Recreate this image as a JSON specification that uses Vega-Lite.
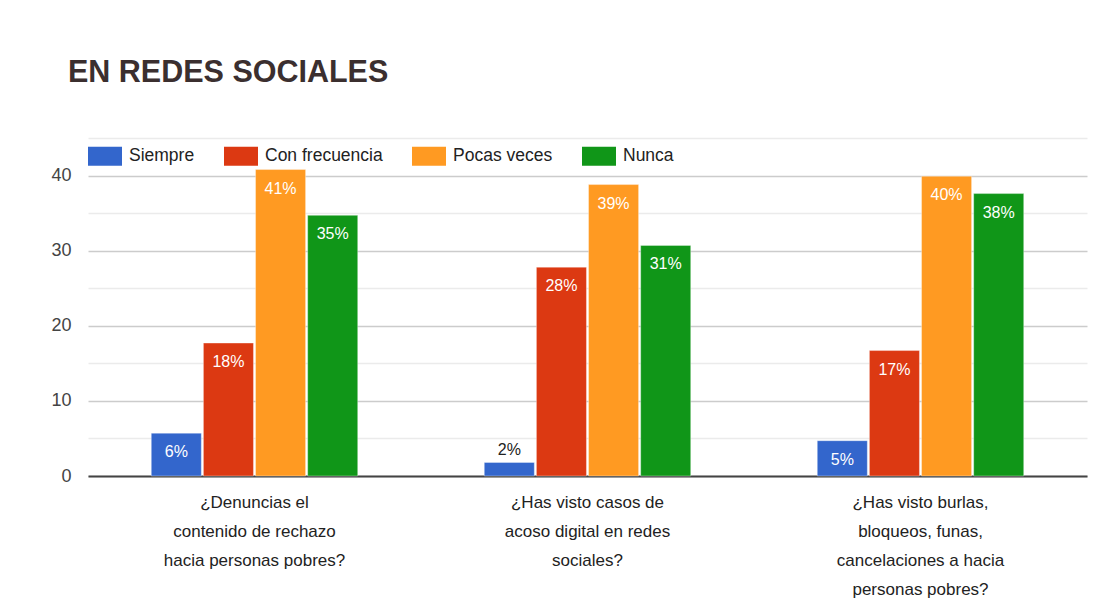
{
  "$schema": "https://vega.github.io/schema/vega-lite/v6.json",
  "autosize": "none",
  "width": 999,
  "height": 338,
  "padding": {"left": 88, "top": 138, "right": 22, "bottom": 137},
  "background": "white",
  "title": {
    "text": "EN REDES SOCIALES",
    "anchor": "start",
    "frame": "group",
    "dx": -20,
    "offset": 50,
    "fontSize": 30.5,
    "fontWeight": "bold",
    "font": "Liberation Sans",
    "color": "#3b2f2f",
    "limit": 0
  },
  "config": {
    "view": {"stroke": null},
    "font": "Liberation Sans",
    "text": {"font": "Liberation Sans"}
  },
  "data": {
    "values": [
      {"q": "¿Denuncias el|contenido de rechazo|hacia personas pobres?", "serie": "Siempre", "value": 5.7, "label": "6%"},
      {"q": "¿Denuncias el|contenido de rechazo|hacia personas pobres?", "serie": "Con frecuencia", "value": 17.7, "label": "18%"},
      {"q": "¿Denuncias el|contenido de rechazo|hacia personas pobres?", "serie": "Pocas veces", "value": 40.8, "label": "41%"},
      {"q": "¿Denuncias el|contenido de rechazo|hacia personas pobres?", "serie": "Nunca", "value": 34.7, "label": "35%"},
      {"q": "¿Has visto casos de|acoso digital en redes|sociales?", "serie": "Siempre", "value": 1.8, "label": "2%"},
      {"q": "¿Has visto casos de|acoso digital en redes|sociales?", "serie": "Con frecuencia", "value": 27.8, "label": "28%"},
      {"q": "¿Has visto casos de|acoso digital en redes|sociales?", "serie": "Pocas veces", "value": 38.8, "label": "39%"},
      {"q": "¿Has visto casos de|acoso digital en redes|sociales?", "serie": "Nunca", "value": 30.7, "label": "31%"},
      {"q": "¿Has visto burlas,|bloqueos, funas,|cancelaciones a hacia|personas pobres?", "serie": "Siempre", "value": 4.7, "label": "5%"},
      {"q": "¿Has visto burlas,|bloqueos, funas,|cancelaciones a hacia|personas pobres?", "serie": "Con frecuencia", "value": 16.7, "label": "17%"},
      {"q": "¿Has visto burlas,|bloqueos, funas,|cancelaciones a hacia|personas pobres?", "serie": "Pocas veces", "value": 39.9, "label": "40%"},
      {"q": "¿Has visto burlas,|bloqueos, funas,|cancelaciones a hacia|personas pobres?", "serie": "Nunca", "value": 37.6, "label": "38%"}
    ]
  },
  "encoding": {
    "x": {
      "field": "q",
      "type": "nominal",
      "sort": null,
      "scale": {"paddingInner": 0.38, "paddingOuter": 0.19},
      "axis": {
        "title": null,
        "labelAngle": 0,
        "labelExpr": "split(datum.label, '|')",
        "labelFontSize": 17,
        "labelLineHeight": 29,
        "labelColor": "#222222",
        "labelPadding": 18,
        "labelLimit": 0,
        "ticks": false,
        "domainColor": "#444444",
        "domainWidth": 2,
        "labelFont": "Liberation Sans"
      }
    },
    "xOffset": {
      "field": "serie",
      "type": "nominal",
      "sort": ["Siempre", "Con frecuencia", "Pocas veces", "Nunca"],
      "scale": {"paddingInner": 0.04}
    },
    "y": {
      "field": "value",
      "type": "quantitative",
      "scale": {"domain": [0, 45], "nice": false},
      "axis": {
        "title": null,
        "values": [0, 5, 10, 15, 20, 25, 30, 35, 40, 45],
        "labelExpr": "datum.value % 10 === 0 ? datum.label : ''",
        "domain": false,
        "ticks": false,
        "labelFontSize": 18,
        "labelColor": "#444444",
        "labelPadding": 17,
        "labelFont": "Liberation Sans",
        "gridColor": {"condition": {"test": "datum.value % 10 === 0", "value": "#cccccc"}, "value": "#ebebeb"},
        "gridWidth": 1.5
      }
    }
  },
  "layer": [
    {
      "mark": {"type": "bar", "stroke": "white", "strokeWidth": 1, "strokeOpacity": 0.35},
      "encoding": {
        "color": {
          "field": "serie",
          "type": "nominal",
          "sort": ["Siempre", "Con frecuencia", "Pocas veces", "Nunca"],
          "scale": {
            "domain": ["Siempre", "Con frecuencia", "Pocas veces", "Nunca"],
            "range": ["#3366cc", "#dc3912", "#ff9a22", "#109618"]
          },
          "legend": {
            "orient": "none",
            "legendX": 0,
            "legendY": 1,
            "direction": "horizontal",
            "title": null,
            "symbolType": "M-1,-0.56h2v1.12h-2z",
            "symbolSize": 1156,
            "symbolStrokeWidth": 0,
            "labelFontSize": 17.5,
            "labelColor": "#222222",
            "labelFont": "Liberation Sans",
            "labelOffset": 7,
            "columnPadding": 29,
            "labelLimit": 0
          }
        }
      }
    },
    {
      "transform": [{"filter": "datum.value >= 3"}],
      "mark": {"type": "text", "baseline": "middle", "dy": 19, "fontSize": 16, "color": "white", "font": "Liberation Sans"},
      "encoding": {"text": {"field": "label"}}
    },
    {
      "transform": [{"filter": "datum.value < 3"}],
      "mark": {"type": "text", "baseline": "middle", "dy": -12, "fontSize": 16, "color": "#222222", "font": "Liberation Sans"},
      "encoding": {"text": {"field": "label"}}
    }
  ]
}
